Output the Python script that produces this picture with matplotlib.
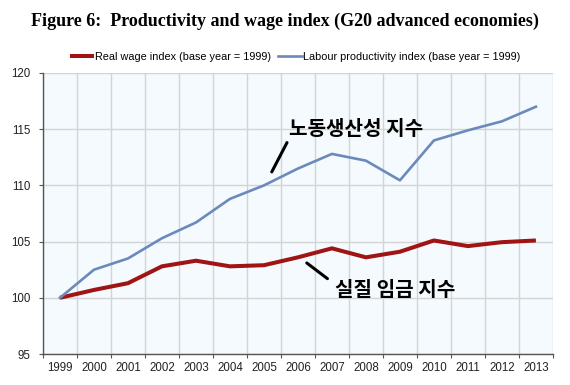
import numpy as np
import matplotlib
matplotlib.use("Agg")
import matplotlib.pyplot as plt

years = [str(y) for y in range(1999, 2014)]
real_wage = [100.0, 100.7, 101.3, 102.8, 103.3, 102.8, 102.9, 103.6,
             104.4, 103.6, 104.1, 105.1, 104.6, 104.95, 105.1]
productivity = [100.0, 102.5, 103.5, 105.3, 106.7, 108.8, 110.0, 111.5,
                112.8, 112.2, 110.45, 114.0, 114.9, 115.7, 117.0]
y_ticks = [95, 100, 105, 110, 115, 120]

red = "#a01414"
blue = "#6b8abb"
tick_font = ["Liberation Sans", "DejaVu Sans"]
kr_font = ["Noto Sans CJK KR", "DejaVu Sans"]

fig = plt.figure(figsize=(5.7, 3.85), dpi=100)
ax = fig.add_axes([0.0754, 0.0805, 0.8946, 0.7299])
ax.set_facecolor("#f4fafd")

x = np.arange(len(years))
ax.plot(x, real_wage, color=red, lw=2.9, solid_capstyle="butt",
        label="Real wage index (base year = 1999)", zorder=3)
ax.plot(x, productivity, color=blue, lw=1.9,
        label="Labour productivity index (base year = 1999)", zorder=3)

ax.set_xlim(-0.5, len(years) - 0.5)
ax.set_ylim(95, 120)
ax.set_yticks(y_ticks)
ax.set_xticks(np.arange(len(years) + 1) - 0.5)
ax.set_xticklabels([])
ax.set_xticks(x, minor=True)
ax.set_xticklabels(years, minor=True)
ax.tick_params(axis="x", which="minor", length=0, pad=6)
ax.tick_params(axis="x", which="major", length=3, color="#555555")
ax.tick_params(axis="y", length=3, color="#555555", pad=6)
for lab in ax.get_xticklabels(minor=True) + ax.get_yticklabels():
    lab.set_family(tick_font)
    lab.set_fontsize(8.3)
    lab.set_color("#222222")

ax.grid(True, which="major", color="#d4d4d4", lw=1.0, zorder=0)
for s in ["top", "right"]:
    ax.spines[s].set_visible(False)
for s in ["left", "bottom"]:
    ax.spines[s].set_color("#555555")
    ax.spines[s].set_linewidth(1.0)

leg = fig.legend(loc="center", bbox_to_anchor=(0.518, 0.852), ncol=2, frameon=False,
                 handlelength=2.2, handletextpad=0.1, columnspacing=0.6,
                 prop={"family": tick_font, "size": 7.8})

fig.text(0.5, 0.945, "Figure 6:  Productivity and wage index (G20 advanced economies)",
         ha="center", va="center", fontsize=13, fontweight="bold",
         family=["Liberation Serif", "DejaVu Serif"])

ax.annotate("노동생산성 지수", xy=(6.23, 111.2), xytext=(6.74, 115.1),
            ha="left", va="center", fontsize=14.5, fontweight="bold", family=kr_font,
            arrowprops=dict(arrowstyle="-", lw=2.2, color="black",
                            shrinkA=1, shrinkB=0, relpos=(0.0, 0.0)))
ax.annotate("실질 임금 지수", xy=(7.26, 103.1), xytext=(8.08, 100.75),
            ha="left", va="center", fontsize=14.5, fontweight="bold", family=kr_font,
            arrowprops=dict(arrowstyle="-", lw=2.2, color="black",
                            shrinkA=4, shrinkB=0, relpos=(0.0, 0.75)))

fig.savefig("out.png", dpi=100)
